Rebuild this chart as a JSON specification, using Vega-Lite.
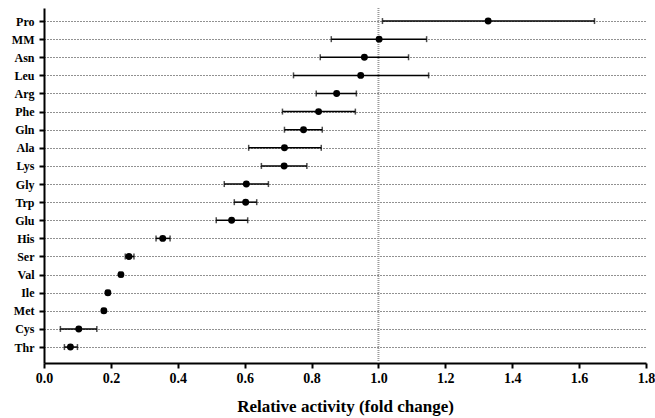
{
  "$schema": "https://vega.github.io/schema/vega-lite/v6.json",
  "width": 602,
  "height": 355,
  "autosize": {"type": "none"},
  "padding": {"left": 44, "top": 8, "right": 9, "bottom": 55},
  "background": "white",
  "config": {
    "view": {"stroke": null},
    "font": "Liberation Serif",
    "axisX": {
      "grid": false,
      "domainColor": "black", "domainWidth": 2,
      "tickColor": "black", "tickWidth": 2, "tickSize": 5,
      "labelFont": "Liberation Serif", "labelFontWeight": "bold", "labelFontSize": 14, "labelColor": "black",
      "labelPadding": 3, "labelFlush": false,
      "titleFont": "Liberation Serif", "titleFontWeight": "bold", "titleFontSize": 17, "titleColor": "black",
      "titlePadding": 13
    },
    "axisY": {
      "grid": true, "gridDash": [1, 2], "gridColor": "#222222", "gridWidth": 1, "gridOpacity": 1,
      "domainColor": "black", "domainWidth": 2,
      "tickColor": "black", "tickWidth": 2, "tickSize": 5,
      "labelFont": "Liberation Serif", "labelFontWeight": "bold", "labelFontSize": 12, "labelColor": "black",
      "labelPadding": 5
    }
  },
  "datasets": {
    "main": [
      {"aa": "Pro", "value": 1.328, "lo": 1.012, "hi": 1.646},
      {"aa": "MM", "value": 1.002, "lo": 0.859, "hi": 1.144},
      {"aa": "Asn", "value": 0.958, "lo": 0.826, "hi": 1.090},
      {"aa": "Leu", "value": 0.947, "lo": 0.746, "hi": 1.150},
      {"aa": "Arg", "value": 0.875, "lo": 0.814, "hi": 0.934},
      {"aa": "Phe", "value": 0.821, "lo": 0.713, "hi": 0.931},
      {"aa": "Gln", "value": 0.776, "lo": 0.719, "hi": 0.832},
      {"aa": "Ala", "value": 0.719, "lo": 0.612, "hi": 0.829},
      {"aa": "Lys", "value": 0.718, "lo": 0.650, "hi": 0.786},
      {"aa": "Gly", "value": 0.605, "lo": 0.539, "hi": 0.671},
      {"aa": "Trp", "value": 0.603, "lo": 0.569, "hi": 0.636},
      {"aa": "Glu", "value": 0.561, "lo": 0.515, "hi": 0.609},
      {"aa": "His", "value": 0.355, "lo": 0.335, "hi": 0.377},
      {"aa": "Ser", "value": 0.254, "lo": 0.243, "hi": 0.269},
      {"aa": "Val", "value": 0.230, "lo": 0.225, "hi": 0.235},
      {"aa": "Ile", "value": 0.191, "lo": 0.186, "hi": 0.196},
      {"aa": "Met", "value": 0.179, "lo": 0.174, "hi": 0.184},
      {"aa": "Cys", "value": 0.104, "lo": 0.049, "hi": 0.158},
      {"aa": "Thr", "value": 0.079, "lo": 0.061, "hi": 0.100}
    ],
    "ref": [{"x": 1}]
  },
  "layer": [
    {
      "data": {"name": "ref"},
      "mark": {"type": "rule", "color": "#999999", "strokeDash": [1, 1], "strokeWidth": 2},
      "encoding": {
        "x": {"field": "x", "type": "quantitative", "scale": {"domain": [0, 1.8], "nice": false}, "axis": {"values": [0, 0.2, 0.4, 0.6, 0.8, 1.0, 1.2, 1.4, 1.6, 1.8], "format": ".1f", "title": "Relative activity (fold change)"}}
      }
    },
    {
      "data": {"name": "main"},
      "mark": {"type": "rule", "color": "black", "strokeWidth": 1.5},
      "encoding": {
        "y": {"field": "aa", "type": "nominal", "sort": ["Pro","MM","Asn","Leu","Arg","Phe","Gln","Ala","Lys","Gly","Trp","Glu","His","Ser","Val","Ile","Met","Cys","Thr"], "scale": {"type": "point", "padding": 0.8, "align": 0.45}, "title": null},
        "x": {"field": "lo", "type": "quantitative", "title": "Relative activity (fold change)"},
        "x2": {"field": "hi"}
      }
    },
    {
      "data": {"name": "main"},
      "mark": {"type": "tick", "color": "black", "thickness": 1.5, "size": 6, "orient": "vertical"},
      "encoding": {
        "y": {"field": "aa", "type": "nominal", "sort": ["Pro","MM","Asn","Leu","Arg","Phe","Gln","Ala","Lys","Gly","Trp","Glu","His","Ser","Val","Ile","Met","Cys","Thr"], "title": null},
        "x": {"field": "lo", "type": "quantitative", "title": "Relative activity (fold change)"}
      }
    },
    {
      "data": {"name": "main"},
      "mark": {"type": "tick", "color": "black", "thickness": 1.5, "size": 6, "orient": "vertical"},
      "encoding": {
        "y": {"field": "aa", "type": "nominal", "sort": ["Pro","MM","Asn","Leu","Arg","Phe","Gln","Ala","Lys","Gly","Trp","Glu","His","Ser","Val","Ile","Met","Cys","Thr"], "title": null},
        "x": {"field": "hi", "type": "quantitative", "title": "Relative activity (fold change)"}
      }
    },
    {
      "data": {"name": "main"},
      "mark": {"type": "point", "filled": true, "color": "black", "size": 48, "opacity": 1},
      "encoding": {
        "y": {"field": "aa", "type": "nominal", "sort": ["Pro","MM","Asn","Leu","Arg","Phe","Gln","Ala","Lys","Gly","Trp","Glu","His","Ser","Val","Ile","Met","Cys","Thr"], "title": null},
        "x": {"field": "value", "type": "quantitative", "title": "Relative activity (fold change)"}
      }
    }
  ]
}
